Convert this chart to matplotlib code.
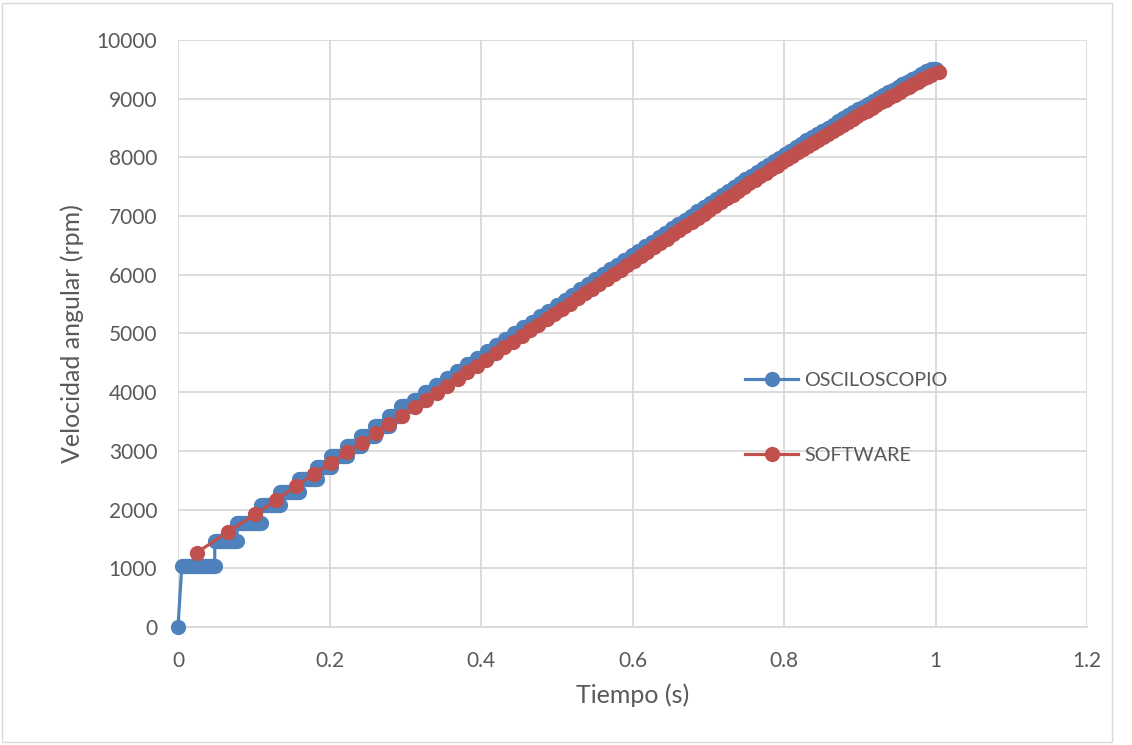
import matplotlib
matplotlib.use("Agg")
import matplotlib.pyplot as plt
from matplotlib.collections import LineCollection
from matplotlib.lines import Line2D
from matplotlib.patches import Rectangle

# Oscilloscope reading: value held from each instant until the next one
osc_time = [0.0, 0.005, 0.0485, 0.078, 0.1095, 0.1345, 0.160, 0.184, 0.2025, 0.2225,
            0.2415, 0.260, 0.278, 0.295, 0.3115, 0.3264, 0.3409, 0.3550, 0.3687, 0.3820,
            0.3950, 0.4076, 0.4199, 0.4320, 0.4438, 0.4554, 0.4668, 0.4779, 0.4889, 0.4997,
            0.5103, 0.5207, 0.5310, 0.5411, 0.5510, 0.5608, 0.5705, 0.5800, 0.5894, 0.5987,
            0.6079, 0.6170, 0.6259, 0.6347, 0.6434, 0.6520, 0.6605, 0.6690, 0.6774, 0.6857,
            0.6939, 0.7020, 0.7100, 0.7180, 0.7259, 0.7337, 0.7414, 0.7491, 0.7567, 0.7642,
            0.7717, 0.7791, 0.7865, 0.7938, 0.8011, 0.8083, 0.8155, 0.8226, 0.8297, 0.8367,
            0.8437, 0.8506, 0.8575, 0.8643, 0.8711, 0.8779, 0.8846, 0.8913, 0.8980, 0.9046,
            0.9112, 0.9177, 0.9242, 0.9307, 0.9371, 0.9435, 0.9499, 0.9562, 0.9625, 0.9688,
            0.9750, 0.9812, 0.9874, 0.9936]
osc_rpm = [0, 1035, 1460, 1780, 2070, 2305, 2516, 2720, 2913, 3083,
           3260, 3430, 3600, 3760, 3873, 4001, 4124, 4245, 4362, 4476,
           4586, 4694, 4799, 4903, 5004, 5104, 5201, 5296, 5391, 5483,
           5574, 5663, 5751, 5839, 5924, 6007, 6091, 6173, 6253, 6333,
           6412, 6491, 6567, 6643, 6718, 6792, 6865, 6938, 7010, 7082,
           7153, 7222, 7291, 7359, 7428, 7495, 7561, 7627, 7691, 7754,
           7816, 7878, 7938, 7998, 8058, 8117, 8174, 8231, 8289, 8345,
           8400, 8453, 8507, 8560, 8613, 8665, 8716, 8766, 8817, 8867,
           8916, 8964, 9012, 9059, 9107, 9153, 9199, 9244, 9289, 9333,
           9377, 9420, 9464, 9510]
osc_stop = 1.0

# Software reading: one value per revolution
sw_time = [0.0247, 0.0664, 0.1017, 0.1300, 0.1558, 0.1795, 0.2015, 0.2227, 0.2425, 0.2610,
           0.2790, 0.2960, 0.3130, 0.3277, 0.3419, 0.3557, 0.3691, 0.3821, 0.3948, 0.4071,
           0.4192, 0.4310, 0.4425, 0.4538, 0.4649, 0.4758, 0.4865, 0.4970, 0.5073, 0.5174,
           0.5274, 0.5372, 0.5469, 0.5564, 0.5658, 0.5751, 0.5843, 0.5933, 0.6022, 0.6110,
           0.6197, 0.6283, 0.6368, 0.6452, 0.6535, 0.6617, 0.6699, 0.6779, 0.6859, 0.6938,
           0.7016, 0.7094, 0.7170, 0.7246, 0.7322, 0.7396, 0.7470, 0.7544, 0.7617, 0.7689,
           0.7761, 0.7832, 0.7903, 0.7973, 0.8042, 0.8111, 0.8180, 0.8248, 0.8315, 0.8382,
           0.8449, 0.8515, 0.8581, 0.8647, 0.8712, 0.8776, 0.8841, 0.8905, 0.8968, 0.9031,
           0.9094, 0.9157, 0.9219, 0.9281, 0.9342, 0.9403, 0.9464, 0.9525, 0.9585, 0.9645,
           0.9705, 0.9764, 0.9824, 0.9883, 0.9941, 1.0043]
sw_rpm = [1266, 1624, 1920, 2163, 2402, 2606, 2788, 2975, 3140, 3300,
          3453, 3595, 3742, 3869, 3992, 4111, 4227, 4340, 4450, 4557,
          4661, 4763, 4863, 4961, 5057, 5151, 5243, 5334, 5423, 5511,
          5597, 5682, 5766, 5848, 5929, 6009, 6088, 6166, 6243, 6319,
          6394, 6468, 6542, 6615, 6687, 6758, 6828, 6898, 6967, 7035,
          7103, 7170, 7236, 7302, 7367, 7432, 7496, 7559, 7621, 7682,
          7742, 7801, 7859, 7917, 7974, 8030, 8086, 8141, 8195, 8249,
          8302, 8354, 8406, 8457, 8507, 8557, 8606, 8655, 8703, 8751,
          8798, 8845, 8891, 8937, 8982, 9027, 9071, 9115, 9158, 9201,
          9244, 9286, 9328, 9369, 9410, 9455]

x_ticks = [0, 0.2, 0.4, 0.6, 0.8, 1, 1.2]
x_labels = ["0", "0.2", "0.4", "0.6", "0.8", "1", "1.2"]
y_ticks = list(range(0, 10001, 1000))

BLUE = "#4F81BD"
RED = "#C0504D"
GRID = "#D9D9D9"
TEXT = "#595959"
FONT = ["Lato", "DejaVu Sans"]

plt.rcParams["font.family"] = FONT

fig = plt.figure(figsize=(11.32, 7.45), dpi=100)
fig.patches.append(Rectangle((2 / 1132, 3 / 745), 1110 / 1132, 739 / 745,
                             transform=fig.transFigure, fill=False,
                             edgecolor=GRID, linewidth=1.0))
ax = fig.add_axes([178 / 1132, 118 / 745, 909 / 1132, 587 / 745])

marker_pt = 11.0
line_pt = 2.3

# Oscilloscope: thin path through the held values
px, py = [osc_time[0]], [osc_rpm[0]]
for i in range(1, len(osc_time)):
    end = osc_time[i + 1] if i + 1 < len(osc_time) else osc_stop
    px += [osc_time[i], end]
    py += [osc_rpm[i], osc_rpm[i]]
ax.plot(px, py, color=BLUE, lw=line_pt, zorder=3, solid_joinstyle="round", clip_on=False)

# each held value is a run of overlapping sample markers
segs = []
for i in range(1, len(osc_time)):
    end = osc_time[i + 1] if i + 1 < len(osc_time) else osc_stop
    segs.append([(osc_time[i], osc_rpm[i]), (end, osc_rpm[i])])
lc = LineCollection(segs, colors=BLUE, linewidths=marker_pt, capstyle="round", zorder=3)
lc.set_clip_on(False)
ax.add_collection(lc)
ax.plot([osc_time[0]], [osc_rpm[0]], "o", color=BLUE, ms=marker_pt, mew=0,
        zorder=3, clip_on=False)

# Software series
ax.plot(sw_time, sw_rpm, color=RED, lw=line_pt, marker="o", ms=marker_pt,
        markeredgewidth=0, zorder=4, clip_on=False)

ax.set_xlim(0, 1.2)
ax.set_ylim(0, 10000)
ax.set_xticks(x_ticks)
ax.set_xticklabels(x_labels)
ax.set_yticks(y_ticks)
ax.grid(True, color=GRID, lw=1.3, zorder=0)
ax.set_axisbelow(True)
for side in ["left", "right", "top"]:
    ax.spines[side].set_visible(False)
ax.spines["bottom"].set_color(GRID)
ax.spines["bottom"].set_linewidth(1.3)
ax.tick_params(length=0, labelsize=15, labelcolor=TEXT)
ax.tick_params(axis="x", pad=17)
ax.tick_params(axis="y", pad=15)

ax.set_xlabel("Tiempo (s)", fontsize=18, color=TEXT, labelpad=9)
ax.set_ylabel("Velocidad angular (rpm)", fontsize=18, color=TEXT, labelpad=9)

handles = [
    Line2D([], [], color=BLUE, lw=line_pt, marker="o", ms=marker_pt, markeredgewidth=0),
    Line2D([], [], color=RED, lw=line_pt, marker="o", ms=marker_pt, markeredgewidth=0),
]
ax.legend(handles, ["OSCILOSCOPIO", "SOFTWARE"], loc="center left",
          bbox_to_anchor=(745 / 1132, 1 - 418 / 745), bbox_transform=fig.transFigure,
          frameon=False, fontsize=14.2, labelcolor=TEXT, handlelength=2.7,
          handletextpad=0.3, labelspacing=2.95, borderpad=0, borderaxespad=0)

fig.savefig("out.png", dpi=100, facecolor="white")
